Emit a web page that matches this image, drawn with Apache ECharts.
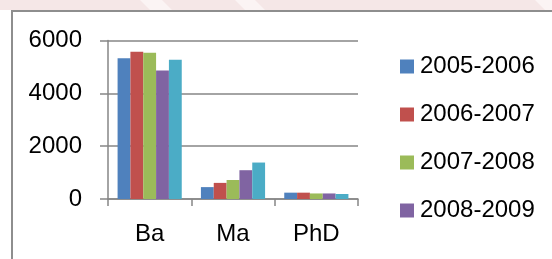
<!DOCTYPE html>
<html>
<head>
<meta charset="utf-8">
<script src="https://cdn.jsdelivr.net/npm/echarts@6/dist/echarts.min.js"></script>
<style>
html,body{margin:0;padding:0;background:#fff;}
#c{width:552px;height:259px;}
</style>
</head>
<body>
<div id="c"></div>
<script>
const categories = ['Ba', 'Ma', 'PhD'];
const seriesNames = ['2005-2006', '2006-2007', '2007-2008', '2008-2009', '2009-2010'];
const s2005 = [5330, 450, 240];
const s2006 = [5570, 610, 240];
const s2007 = [5540, 720, 210];
const s2008 = [4860, 1090, 210];
const s2009 = [5270, 1380, 190];
const legendNames = ['2005-2006', '2006-2007', '2007-2008', '2008-2009'];
const yTicks = [0, 2000, 4000, 6000];

const values = [s2005, s2006, s2007, s2008, s2009];
const colors = ['#4F81BD', '#C0504D', '#9BBB59', '#8064A2', '#4BACC6'];
const FONT = 'Liberation Sans';

const chart = echarts.init(document.getElementById('c'), null, {renderer: 'canvas'});
chart.setOption({
  animation: false,
  backgroundColor: '#ffffff',
  textStyle: {fontFamily: FONT},
  graphic: [
    {type: 'rect', shape: {x: 0, y: 0, width: 552, height: 10}, style: {fill: '#f5e7e7'}, silent: true},
    {type: 'polygon', shape: {points: [[140, 0], [162, 0], [172, 10], [150, 10]]}, style: {fill: '#fbf4f4'}, silent: true},
    {type: 'polygon', shape: {points: [[235, 0], [255, 0], [265, 10], [245, 10]]}, style: {fill: '#fbf4f4'}, silent: true},
    {type: 'polygon', shape: {points: [[535, 0], [552, 0], [552, 10], [545, 10]]}, style: {fill: '#fbf4f4'}, silent: true},
    {type: 'line', shape: {x1: 11, y1: 11, x2: 552, y2: 11}, style: {stroke: '#8e8e8e', lineWidth: 2}, silent: true},
    {type: 'line', shape: {x1: 12, y1: 10, x2: 12, y2: 259}, style: {stroke: '#8e8e8e', lineWidth: 2}, silent: true}
  ],
  grid: {left: 108, right: 194, top: 40.5, bottom: 60, containLabel: false},
  legend: {
    data: legendNames,
    orient: 'vertical',
    left: 400,
    top: 54.5,
    padding: 0,
    itemWidth: 14,
    itemHeight: 14,
    itemGap: 24,
    icon: 'rect',
    textStyle: {fontFamily: FONT, fontSize: 24, color: '#000', lineHeight: 24, padding: [0, 0, 0, 1]}
  },
  xAxis: {
    type: 'category',
    data: categories,
    axisLine: {show: true, lineStyle: {color: '#868686', width: 1.5}},
    axisTick: {show: true, length: 7, inside: false, lineStyle: {color: '#868686', width: 1.5}},
    axisLabel: {fontFamily: FONT, fontSize: 24, color: '#000', margin: 23}
  },
  yAxis: {
    type: 'value',
    min: 0,
    max: 6000,
    interval: 2000,
    axisLine: {show: true, lineStyle: {color: '#868686', width: 1.5}},
    axisTick: {show: true, length: 8, lineStyle: {color: '#868686', width: 1.5}},
    axisLabel: {fontFamily: FONT, fontSize: 24, color: '#000', margin: 26,
      formatter: v => yTicks.includes(v) ? String(v) : ''},
    splitLine: {show: true, lineStyle: {color: '#868686', width: 1.5}}
  },
  series: seriesNames.map((n, i) => ({
    name: n,
    type: 'bar',
    data: values[i],
    barGap: '0%',
    barCategoryGap: '23%',
    itemStyle: {color: colors[i]}
  }))
});
</script>
</body>
</html>
